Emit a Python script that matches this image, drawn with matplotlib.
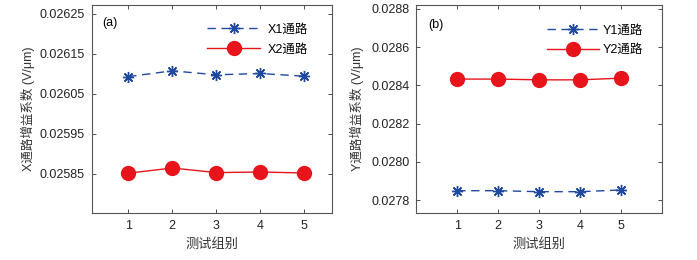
import matplotlib
matplotlib.use("Agg")
import matplotlib.pyplot as plt

plt.rcParams['font.family'] = ['Liberation Sans', 'Noto Sans CJK SC', 'DejaVu Sans']

groups = [1, 2, 3, 4, 5]
x1 = [0.026093, 0.0261075, 0.0260975, 0.0261008, 0.026094]
x2 = [0.025851, 0.025864, 0.0258525, 0.025854, 0.0258515]
y1 = [0.0278487, 0.0278487, 0.0278435, 0.0278435, 0.0278524]
y2 = [0.028433, 0.028433, 0.028429, 0.028429, 0.028438]

xticks_a = [0.02585, 0.02595, 0.02605, 0.02615, 0.02625]
yticks_b = [0.0278, 0.0280, 0.0282, 0.0284, 0.0286, 0.0288]

blue = '#1f48a0'
red = '#e8141c'
asterisk = (8, 2, 0)
cjk = ['Liberation Sans', 'Noto Sans CJK SC', 'DejaVu Sans']

fig = plt.figure(figsize=(6.97, 2.6), dpi=100)
axa = fig.add_axes([0.1316, 0.1819, 0.3447, 0.799])
axb = fig.add_axes([0.5973, 0.1819, 0.3525, 0.799])

def style(ax):
    for s in ax.spines.values():
        s.set_color('#555555')
        s.set_linewidth(0.8)
    ax.tick_params(direction='in', top=True, right=True, length=3, pad=5,
                   width=0.6, colors='#333333', labelsize=9, labelcolor='#222222')

def draw(ax, a, b, la, lb):
    ax.plot(groups, a, linestyle=(0, (6, 4)), color=blue, lw=1.0,
            marker=asterisk, markersize=8, markerfacecolor='none',
            markeredgecolor=blue, markeredgewidth=1.0, label=la)
    ax.plot(groups, b, linestyle='-', color=red, lw=1.0,
            marker='o', markersize=10, markerfacecolor=red,
            markeredgecolor=red, label=lb)

draw(axa, x1, x2, 'X1通路', 'X2通路')
axa.set_xlim(0.17, 5.63)
axa.set_ylim(0.025752, 0.0262725)
axa.set_xticks(groups)
axa.set_yticks(xticks_a)
axa.set_yticklabels([f'{v:.5f}' for v in xticks_a])
axa.set_xlabel('测试组别', fontsize=9.5, color='#333333', family=cjk, labelpad=5)
axa.set_ylabel('X通路增益系数 (V/μm)', fontsize=9, color='#333333', family=cjk, labelpad=3)
axa.text(0.042, 0.913, '(a)', transform=axa.transAxes, fontsize=9, va='center')
style(axa)
axa.legend(loc='upper right', frameon=False, handlelength=4.2, handletextpad=0.6,
           prop={'family': cjk, 'size': 9},
           bbox_to_anchor=(0.92, 0.935), borderaxespad=0, labelspacing=0.65)

draw(axb, y1, y2, 'Y1通路', 'Y2通路')
axb.set_xlim(0, 6)
axb.set_ylim(0.0277335, 0.028821)
axb.set_xticks(groups)
axb.set_yticks(yticks_b)
axb.set_yticklabels([f'{v:.4f}' for v in yticks_b])
axb.set_xlabel('测试组别', fontsize=9.5, color='#333333', family=cjk, labelpad=5)
axb.set_ylabel('Y通路增益系数 (V/μm)', fontsize=9, color='#333333', family=cjk, labelpad=5)
axb.text(0.049, 0.904, '(b)', transform=axb.transAxes, fontsize=9, va='center')
style(axb)
axb.legend(loc='upper right', frameon=False, handlelength=4.2, handletextpad=0.3,
           prop={'family': cjk, 'size': 9},
           bbox_to_anchor=(0.945, 0.93), borderaxespad=0, labelspacing=0.6)

fig.savefig('out.png', dpi=100)
